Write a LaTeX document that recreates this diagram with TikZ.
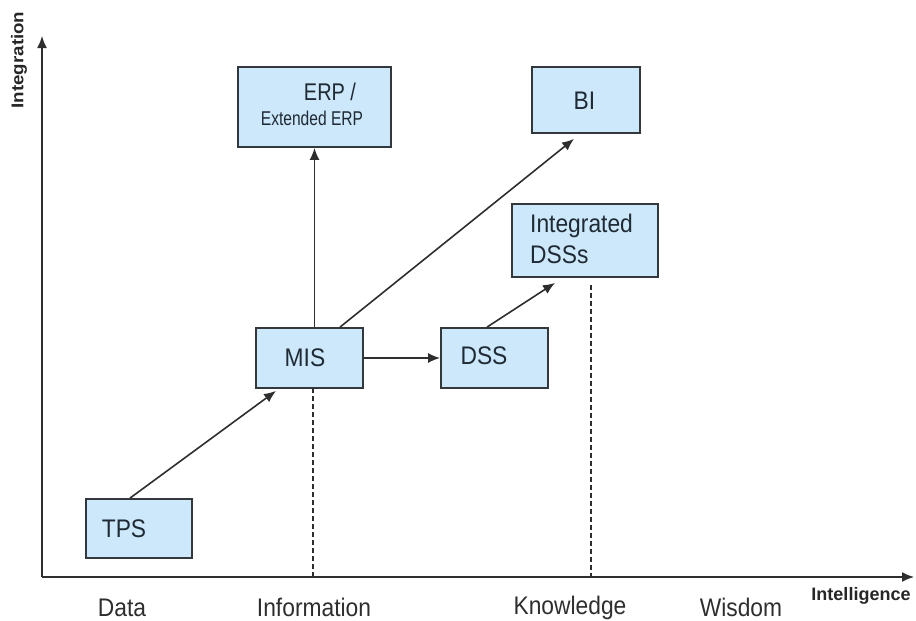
\documentclass[tikz,border=0pt]{standalone}
\usepackage{fontspec}
\setmainfont{Liberation Sans}
\usetikzlibrary{arrows.meta}
\definecolor{boxfill}{HTML}{CCE8FA}
\definecolor{boxline}{HTML}{33383D}
\definecolor{txt}{HTML}{1F2A35}
\newcommand\narrowtxt[1]{\scalebox{0.95}[1.06]{#1}}
\tikzset{
  box/.style={draw=boxline, fill=boxfill, line width=1.8pt, inner sep=0pt},
  lbl/.style={text=txt, font=\fontsize{24}{28}\selectfont, inner sep=0pt},
  axlbl/.style={text=black!82, font=\fontsize{24}{28}\selectfont, inner sep=0pt},
  conn/.style={draw=black!82, line width=1.6pt, -{Latex[length=12pt,width=10pt]}},
  guide/.style={draw=black!82, line width=1.1pt, dash pattern=on 5pt off 3pt},
}
\begin{document}
\begin{tikzpicture}[x=1pt,y=-1pt]
\useasboundingbox (0,0) rectangle (916,621);
% axes
\coordinate (o) at (42,577);
\coordinate (ytop) at (42,36);
\coordinate (xend) at (914,577);
\draw[conn] (o) -- (ytop);
\draw[conn] (o) -- (xend);
\node[text=black!85, font=\bfseries\fontsize{17}{20}\selectfont, rotate=90, inner sep=0pt] (ylab) at (19,60) {\scalebox{1.1}[1]{Integration}};
\node[text=black!85, font=\bfseries\fontsize{18}{20}\selectfont, inner sep=0pt] (xlab) at (861,596) {Intelligence};
\node[axlbl] (data) at (122,607.5) {\narrowtxt{Data}};
\node[axlbl] (info) at (314,607.5) {\narrowtxt{Information}};
\node[axlbl] (know) at (570,607.5) {\narrowtxt{Knowledge}};
\node[axlbl] (wis) at (741,607.5) {\narrowtxt{Wisdom}};
% boxes
\node[box, minimum width=106pt, minimum height=59pt] (tps) at (139,528.5) {};
\node[box, minimum width=107pt, minimum height=60pt] (mis) at (309.5,358) {};
\node[box, minimum width=107pt, minimum height=60pt] (dss) at (494.5,358) {};
\node[box, minimum width=146pt, minimum height=73pt] (idss) at (585,240.5) {};
\node[box, minimum width=153pt, minimum height=80pt] (erp) at (314.5,107) {};
\node[box, minimum width=108pt, minimum height=66pt] (bi) at (586,100) {};
% texts
\node[lbl] (tpst) at (124,528.5) {\narrowtxt{TPS}};
\node[lbl] (mist) at (305,358) {\narrowtxt{MIS}};
\node[lbl] (dsst) at (484,356) {\narrowtxt{DSS}};
\node[lbl, anchor=west] (idsst1) at (530,226) {\narrowtxt{Integrated}};
\node[lbl, anchor=west] (idsst2) at (530,255) {\narrowtxt{DSSs}};
\node[lbl] (bit) at (584.5,101) {\narrowtxt{BI}};
\node[lbl, font=\fontsize{21}{24}\selectfont] (erpt1) at (330,92) {\scalebox{0.95}[1.15]{ERP /}};
\node[lbl, font=\fontsize{19}{22}\selectfont] (erpt2) at (312,118) {\scalebox{0.82}[1.05]{Extended ERP}};
% connectors
\draw[conn] ([xshift=-9pt]tps.north) -- ([xshift=-33.5pt,yshift=-2pt]mis.south);
\draw[conn] (mis.north -| erp.south) -- (erp.south);
\draw[conn] ([xshift=30.5pt]mis.north) -- ([xshift=-12pt,yshift=-5pt]bi.south);
\draw[conn] (mis.east) -- (dss.west);
\draw[conn] ([xshift=-7.5pt]dss.north) -- ([xshift=-30pt,yshift=-5pt]idss.south);
% dashed guides
\coordinate (d1a) at (313,388);
\coordinate (d1b) at (313,577);
\coordinate (d2a) at (591,285);
\coordinate (d2b) at (591,577);
\draw[guide] (d1a) -- (d1b);
\draw[guide] (d2a) -- (d2b);
\end{tikzpicture}
\end{document}
